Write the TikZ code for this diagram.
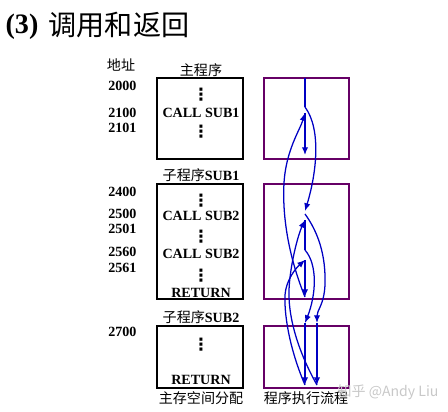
\documentclass[tikz,border=0pt]{standalone}
\usepackage{fontspec}
\setmainfont{Liberation Serif}
\newfontfamily\cjk{Noto Sans CJK SC}
\newfontfamily\symf{DejaVu Sans}
\usepackage{tikz}
\usetikzlibrary{arrows,arrows.meta,positioning}
\definecolor{boxpurple}{RGB}{102,0,102}
\definecolor{flowblue}{RGB}{0,0,195}
\definecolor{markgray}{RGB}{200,200,200}

\begin{document}
\begin{tikzpicture}[x=0.025cm, y=-0.025cm,
  addr/.style={font=\bfseries\fontsize{10}{12}\selectfont, anchor=west, inner sep=0pt},
  instr/.style={font=\bfseries\fontsize{10}{12}\selectfont, inner sep=0pt},
  dotsx/.style={font=\symf\bfseries\fontsize{12}{12}\selectfont, inner sep=0pt},
  capt/.style={font=\fontsize{10}{12}\selectfont, inner sep=0pt},
  membox/.style={draw=black, line width=1.6pt},
  flowbox/.style={draw=boxpurple, line width=1.4pt},
  flowline/.style={flowblue, line width=0.9pt},
  flow/.style={flowline, -{Latex[length=5.5pt,width=4.5pt]}}]
\useasboundingbox (0,0) rectangle (448,412);

% title
\node (num) at (22,27) {\bfseries\fontsize{20}{24}\selectfont (3)};
\node (title) at (119,25) {\cjk\fontsize{20}{24}\selectfont 调用和返回};

% main memory
\node[capt] (addr) at (121,65) {\cjk 地址};
\node[capt] (mainname) at (201,70) {\cjk 主程序};
\draw[membox] (157,78) rectangle (243,159);
\node[addr] (a2000) at (108,86) {2000};
\node[dotsx] (d1) at (201,95) {⋮};
\node[addr] (a2100) at (108,113) {2100};
\node[instr] (call1) at (201,113) {CALL SUB1};
\node[addr] (a2101) at (108,128) {2101};
\node[dotsx] (d2) at (201,132) {⋮};

\node[capt] (sub1name) at (201,175) {{\cjk 子程序}\textbf{SUB1}};
\draw[membox] (157,184) rectangle (243,299);
\node[addr] (a2400) at (108,192) {2400};
\node[dotsx] (d3) at (201,201) {⋮};
\node[addr] (a2500) at (108,214) {2500};
\node[instr] (call2) at (201,216) {CALL SUB2};
\node[addr] (a2501) at (108,229) {2501};
\node[dotsx] (d4) at (201,237) {⋮};
\node[addr] (a2560) at (108,252) {2560};
\node[instr] (call3) at (201,254) {CALL SUB2};
\node[addr] (a2561) at (108,268) {2561};
\node[dotsx] (d5) at (201,276) {⋮};
\node[instr] (ret1) at (201,293) {RETURN};

\node[capt] (sub2name) at (201,317) {{\cjk 子程序}\textbf{SUB2}};
\draw[membox] (157,326) rectangle (243,388);
\node[addr] (a2700) at (108,332) {2700};
\node[dotsx] (d6) at (201,345) {⋮};
\node[instr] (ret2) at (201,380) {RETURN};
\node[capt] (memname) at (201,398) {\cjk 主存空间分配};

% execution flow
\draw[flowbox] (264,78) rectangle (349,159);
\draw[flowbox] (264,184) rectangle (349,299);
\draw[flowbox] (264,326) rectangle (349,388);
\node[capt] (flowname) at (306,398) {\cjk 程序执行流程};

\coordinate (s) at (305,78);
\coordinate (c1) at (305,107);
\coordinate (r1) at (305,113);
\coordinate (e1) at (305,155);
\coordinate (s1) at (305,211);
\coordinate (c2) at (305,214);
\coordinate (b1) at (305,220);
\coordinate (c3) at (305,250);
\coordinate (b2) at (305,260);
\coordinate (e2) at (305,297);
\coordinate (s2a) at (317,323);
\coordinate (s2b) at (305,323);
\coordinate (e3a) at (317,385);
\coordinate (e3b) at (305,385);

\draw[flowline] (s) -- (c1);
\draw[flow] (c1) .. controls (322,130) and (316,175) .. (s1);
\draw[flow] (c2) .. controls (318,232) and (326,255) .. (325,285) .. controls (324,305) and (317,310) .. (s2a);
\draw[flow] (s2a) -- (e3a);
\draw[flow] (e3a) .. controls (300,355) and (288,320) .. (289,290) .. controls (290,265) and (298,235) .. (b1);
\draw[flowline] (b1) -- (c3);
\draw[flow] (c3) .. controls (318,265) and (316,295) .. (s2b);
\draw[flow] (s2b) -- (e3b);
\draw[flow] (e3b) .. controls (292,355) and (284,320) .. (285,295) .. controls (286,280) and (296,268) .. (b2);
\draw[flow] (b2) -- (e2);
\draw[flow] (e2) .. controls (290,260) and (282,220) .. (284,183) .. controls (286,150) and (300,130) .. (r1);
\draw[flow] (r1) -- (e1);

\node[capt, text=markgray] (mark) at (388,392) {\cjk 知乎 @Andy Liu};
\end{tikzpicture}
\end{document}
